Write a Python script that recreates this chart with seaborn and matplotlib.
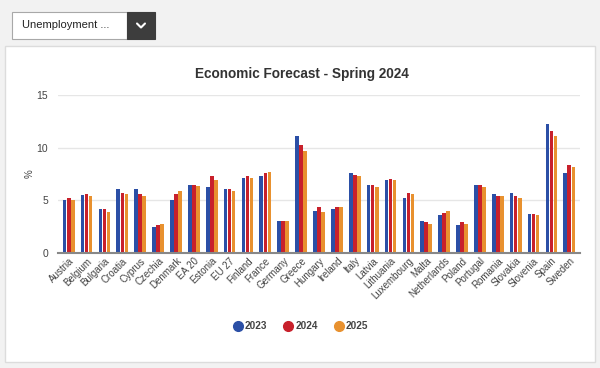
import pandas as pd
import seaborn as sns
import matplotlib.pyplot as plt
from matplotlib.patches import Rectangle
from matplotlib.lines import Line2D

# Datos
paises = ['Austria', 'Belgium', 'Bulgaria', 'Croatia', 'Cyprus', 'Czechia', 'Denmark',
          'EA 20', 'Estonia', 'EU 27', 'Finland', 'France', 'Germany', 'Greece',
          'Hungary', 'Ireland', 'Italy', 'Latvia', 'Lithuania', 'Luxembourg', 'Malta',
          'Netherlands', 'Poland', 'Portugal', 'Romania', 'Slovakia', 'Slovenia',
          'Spain', 'Sweden']
v2023 = [5.0, 5.5, 4.2, 6.1, 6.1, 2.5, 5.0, 6.5, 6.3, 6.1, 7.1, 7.3, 3.0, 11.1,
         4.0, 4.2, 7.6, 6.5, 6.9, 5.2, 3.0, 3.6, 2.7, 6.5, 5.6, 5.7, 3.7, 12.2, 7.6]
v2024 = [5.2, 5.6, 4.2, 5.7, 5.6, 2.7, 5.6, 6.5, 7.3, 6.1, 7.3, 7.6, 3.0, 10.3,
         4.4, 4.4, 7.4, 6.5, 7.0, 5.7, 2.9, 3.8, 2.9, 6.5, 5.4, 5.4, 3.7, 11.6, 8.4]
v2025 = [5.0, 5.4, 3.9, 5.6, 5.4, 2.8, 5.9, 6.4, 6.9, 5.9, 7.1, 7.7, 3.0, 9.7,
         3.9, 4.4, 7.3, 6.3, 6.9, 5.6, 2.8, 4.0, 2.8, 6.3, 5.4, 5.2, 3.6, 11.1, 8.2]
anios = ['2023', '2024', '2025']
colores = ['#2b4fa6', '#c8202b', '#e8912f']

df = pd.DataFrame({'Pais': paises, '2023': v2023, '2024': v2024, '2025': v2025})
df = df.melt(id_vars='Pais', var_name='Anio', value_name='Valor')

sns.set_theme(style='white')
plt.rcParams['font.family'] = ['Liberation Sans', 'DejaVu Sans']

fig = plt.figure(figsize=(6, 3.68), dpi=100, facecolor='#f2f2f2')

# panel blanco
fig.add_artist(Rectangle((5 / 600, 6 / 368), 590 / 600, 316 / 368, transform=fig.transFigure,
                         facecolor='white', edgecolor='#dcdcdc', lw=1, zorder=0))
# selector
fig.add_artist(Rectangle((12 / 600, (368 - 39) / 368), 115 / 600, 27 / 368, transform=fig.transFigure,
                         facecolor='white', edgecolor='#a8a8a8', lw=0.8))
fig.add_artist(Rectangle((127 / 600, (368 - 39) / 368), 28 / 600, 27 / 368, transform=fig.transFigure,
                         facecolor='#3d3d3d', edgecolor='#3d3d3d', lw=0.8))
fig.add_artist(Line2D([137 / 600, 141 / 600, 145 / 600],
                      [(368 - 23.5) / 368, (368 - 27.5) / 368, (368 - 23.5) / 368],
                      transform=fig.transFigure, color='white', lw=1.5))
fig.text(22 / 600, (368 - 25.5) / 368, 'Unemployment ...', fontsize=8, color='#222222', va='center')

ax = fig.add_axes([58 / 600, 1 - 253 / 368, 522 / 600, 158 / 368])
sns.barplot(data=df, x='Pais', y='Valor', hue='Anio', palette=colores, hue_order=anios,
            width=0.68, gap=0.1, errorbar=None, ax=ax, saturation=1, linewidth=0,
            legend=False, zorder=3)

ax.set_ylim(0, 15)
ax.set_xlim(-0.6, len(paises) - 0.4)
ax.set_yticks([0, 5, 10, 15])
ax.yaxis.grid(True, color='#e6e6e6', lw=1, zorder=0)
ax.set_axisbelow(True)
for s in ['top', 'right', 'left']:
    ax.spines[s].set_visible(False)
ax.spines['bottom'].set_color('#888888')
ax.spines['bottom'].set_linewidth(1.5)
ax.spines['bottom'].set_zorder(5)
ax.tick_params(axis='y', length=0, labelsize=7.5, labelcolor='#444444', pad=7)
ax.tick_params(axis='x', length=0, labelsize=7, labelcolor='#444444', pad=2)
plt.setp(ax.get_xticklabels(), rotation=45, ha='right', rotation_mode='anchor')
ax.set_xlabel('')
ax.set_ylabel('%', fontsize=7, color='#444444')
ax.yaxis.set_label_coords(-0.045, 0.5)

fig.text(0.503, 1 - 74 / 368, 'Economic Forecast - Spring 2024', fontsize=9.8, fontweight='bold',
         color='#333333', ha='center', va='center')

handles = [Line2D([], [], marker='o', ls='', color=c, markersize=7) for c in colores]
leg = fig.legend(handles, anios, loc='center', bbox_to_anchor=(0.5, 1 - 326 / 368), ncol=3,
                 frameon=False, fontsize=7.2, handletextpad=0.1, columnspacing=1.5, handlelength=1.2)
for t in leg.get_texts():
    t.set_fontweight('bold')
    t.set_color('#444444')

fig.savefig('out.png', dpi=100, facecolor=fig.get_facecolor())
